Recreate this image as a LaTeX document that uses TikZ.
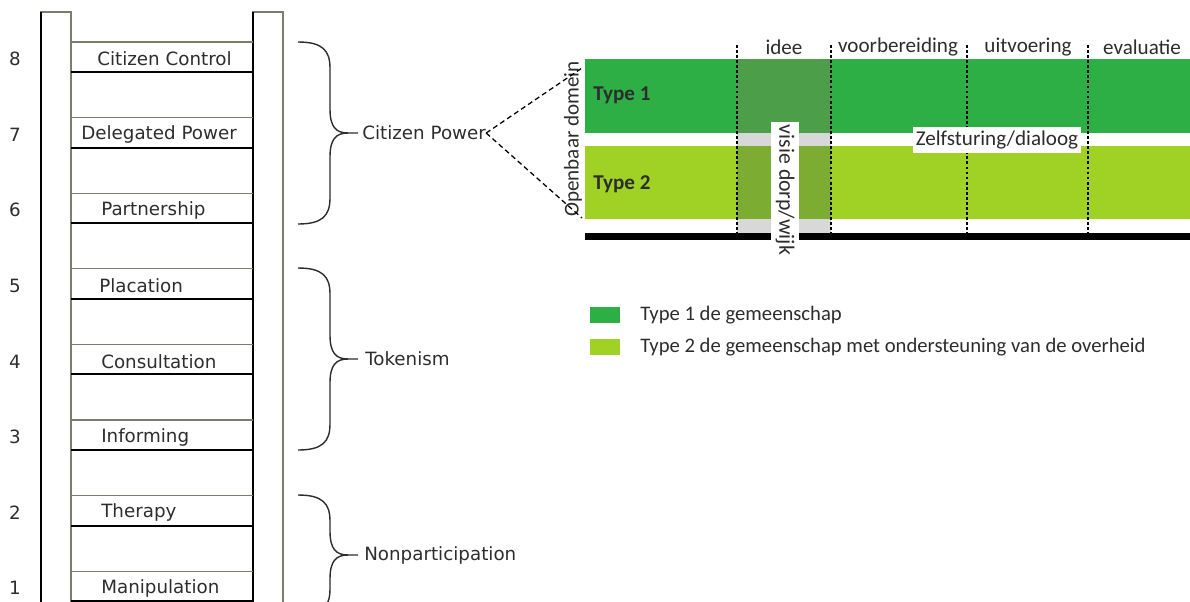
\documentclass[tikz,border=0pt]{standalone}
\usepackage{fontspec}
\setmainfont{DejaVu Sans}
\newfontfamily\panelfont{Carlito}
\definecolor{typeone}{RGB}{46,175,70}
\definecolor{typetwo}{RGB}{160,210,38}
\definecolor{ideeone}{RGB}{76,158,72}
\definecolor{ideetwo}{RGB}{124,172,50}
\definecolor{gapgray}{RGB}{216,216,216}
\definecolor{railgray}{RGB}{125,125,110}
\definecolor{inkgray}{RGB}{45,45,45}
\tikzset{
  rail/.style={draw=railgray, line width=0.8pt},
  rail edge/.style={draw=black, line width=1.3pt},
  rung top/.style={draw=railgray, line width=0.8pt},
  rung bottom/.style={draw=black, line width=1.4pt},
  rung label/.style={text=inkgray, font=\fontsize{13}{15}\selectfont, inner sep=0pt},
  brace line/.style={draw=inkgray, line width=1pt},
  phase line/.style={draw=black, line width=0.8pt, dash pattern=on 2pt off 1.6pt},
  link line/.style={draw=black, line width=0.9pt, dash pattern=on 3.6pt off 2.4pt},
  panel text/.style={text=inkgray, font=\panelfont\fontsize{15}{17}\selectfont, inner sep=0pt},
  type label/.style={panel text, font=\panelfont\bfseries\fontsize{15}{17}\selectfont, anchor=west},
  white box/.style={panel text, fill=white, inner xsep=2pt, inner ysep=3pt}
}
\begin{document}
\begin{tikzpicture}[x=0.025cm, y=-0.025cm]
  \useasboundingbox (0,0) rectangle (1190,601);

  % Ladder rails
  \foreach \x in {41, 253}{
      \draw[rail] (\x,640) -- (\x,12) -- (\x+30,12) -- (\x+30,640);
      \draw[rail edge] (\x,640) -- (\x,12);
    }

  % Rungs with their labels
  \foreach \n/\lx/\lab in {8/97/Citizen Control, 7/81/Delegated Power, 6/101/Partnership,
      5/99/Placation, 4/101/Consultation, 3/101/Informing, 2/101/Therapy, 1/101/Manipulation}{
      \pgfmathsetmacro\tp{42+(8-\n)*75.6}
      \draw[rung top] (71,\tp) -- (253,\tp);
      \draw[rung bottom] (71,\tp+30) -- (253,\tp+30);
      \node[rung label, anchor=west] (rung\n) at (\lx,\tp+17) {\lab};
      \node[rung label] (num\n) at (15,\tp+17) {\n};
    }

  % Braces
  \foreach \t/\b in {42/224, 268/450, 495/615}{
      \pgfmathsetmacro\m{(\t+\b)/2}
      \draw[brace line] (298,\t) .. controls (322,\t) and (330,\t+8) .. (330,\t+26)
        -- (330,\m-24) .. controls (330,\m-6) and (336,\m) .. (348,\m) -- (358,\m);
      \draw[brace line] (298,\b) .. controls (322,\b) and (330,\b-8) .. (330,\b-26)
        -- (330,\m+24) .. controls (330,\m+6) and (336,\m) .. (348,\m);
    }
  \node[rung label, anchor=west] (cpower) at (362,133) {Citizen Power};
  \node[rung label, anchor=west] (token) at (365,359) {Tokenism};
  \node[rung label, anchor=west] (nonpart) at (364,555) {Nonparticipation};

  % Bands
  \fill[typeone] (585,59) rectangle (1190,133);
  \fill[typetwo] (585,146) rectangle (1190,219);
  \fill[black] (585,233) rectangle (1190,240);

  % Idee column
  \fill[ideeone] (737,59) rectangle (831,133);
  \fill[ideetwo] (737,146) rectangle (831,219);
  \fill[gapgray] (737,133) rectangle (831,146);
  \fill[gapgray] (737,219) rectangle (831,233);

  % Phases
  \foreach \x in {737, 831, 967, 1088}{
      \draw[phase line] (\x,45) -- (\x,240);
    }
  \node[panel text] (idee) at (784,47) {idee};
  \node[panel text] (voorb) at (898,47) {voorbereiding};
  \node[panel text] (uitv) at (1028,47) {uitvoering};
  \node[panel text] (eval) at (1142,47) {evaluatie};

  \node[type label] (type1) at (593,95) {Type 1};
  \node[type label] (type2) at (593,184) {Type 2};

  \node[white box, font=\panelfont\fontsize{15.5}{17}\selectfont, rotate=-90] (visie) at (785,190) {visie dorp/wijk};
  \node[white box] (zelf) at (997,140) {Zelfsturing/dialoog};

  % Openbaar domein
  \node[panel text, rotate=90] (domein) at (573,139) {Openbaar domein};
  \coordinate (odtop) at (582,68);
  \coordinate (odbot) at (582,218);
  \draw[link line] (cpower.east) -- (odtop);
  \draw[link line] (cpower.east) -- (odbot);

  % Legend
  \fill[typeone] (590,307) rectangle (620,323);
  \node[panel text, font=\panelfont\fontsize{14.7}{17}\selectfont, anchor=west] (leg1) at (640,315) {Type 1 de gemeenschap};
  \fill[typetwo] (590,339) rectangle (620,355);
  \node[panel text, font=\panelfont\fontsize{14.7}{17}\selectfont, anchor=west] (leg2) at (640,347) {Type 2 de gemeenschap met ondersteuning van de overheid};

\end{tikzpicture}
\end{document}
